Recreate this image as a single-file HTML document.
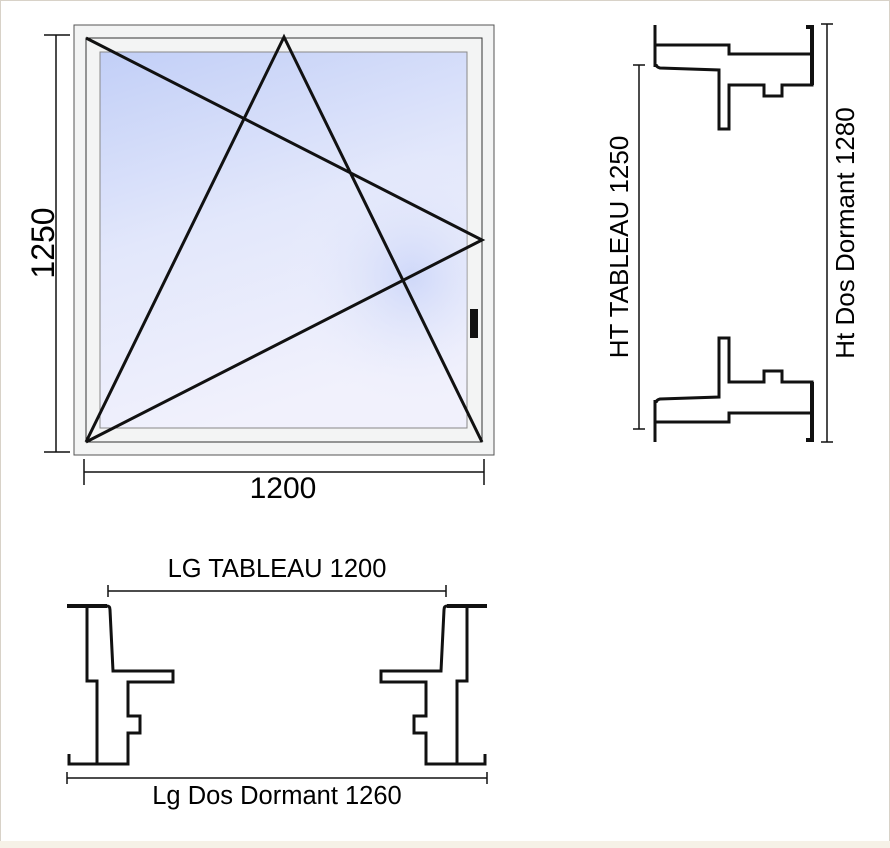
<!DOCTYPE html>
<html><head><meta charset="utf-8"><style>
html,body{margin:0;padding:0;background:#fff}
svg{display:block}
text{font-family:"Liberation Sans",Arial,sans-serif;fill:#000}
</style></head><body>
<svg width="890" height="848" viewBox="0 0 890 848" xmlns="http://www.w3.org/2000/svg">
<defs>
<linearGradient id="g" x1="0" y1="0" x2="0.3" y2="1">
<stop offset="0" stop-color="#c2cff7"/>
<stop offset="0.5" stop-color="#e2e7fb"/>
<stop offset="1" stop-color="#f1f1fc"/>
</linearGradient>
<radialGradient id="g2" cx="0.85" cy="0.6" r="0.35">
<stop offset="0" stop-color="#c8d3f8" stop-opacity="0.8"/>
<stop offset="1" stop-color="#eef0fc" stop-opacity="0"/>
</radialGradient>
</defs>
<rect x="0.5" y="0.5" width="889" height="847" fill="#fff" stroke="#d8d2c8"/>
<rect x="0" y="841" width="890" height="7" fill="#f6f1e7"/>

<rect x="74" y="25" width="420" height="430" fill="#f3f4f4" stroke="#555" stroke-width="1"/>
<rect x="86" y="38" width="396" height="404" fill="#f3f4f4" stroke="#333" stroke-width="1"/>
<rect x="100" y="52" width="367" height="376" fill="url(#g)" stroke="#888" stroke-width="1"/>
<rect x="100" y="52" width="367" height="376" fill="url(#g2)"/>
<g stroke="#111" stroke-width="3" fill="none">
<polyline points="86,38 482,240 86,442"/>
<polyline points="86,442 284,37 482,442"/>
</g>
<rect x="470" y="309" width="8" height="29" fill="#111"/>
<g stroke="#111" stroke-width="1.5">
<line x1="56" y1="35" x2="56" y2="452"/>
<line x1="44" y1="35" x2="70" y2="35"/>
<line x1="44" y1="452" x2="70" y2="452"/>
<line x1="84" y1="472" x2="484" y2="472"/>
<line x1="84" y1="459" x2="84" y2="485"/>
<line x1="484" y1="459" x2="484" y2="485"/>
</g>
<text font-size="32" text-anchor="middle" transform="translate(54,243) rotate(-90)">1250</text>
<text x="283" y="498" font-size="30" text-anchor="middle">1200</text>

<g id="vt" stroke="#111" stroke-width="3" fill="none">
<line x1="655" y1="25" x2="655" y2="67"/>
<path d="M656,45 H729 V54 H812 V85 H782 V96 H764 V85 H729 V129 H719 V70 L660,68 Q656,67 656,64"/>
<path d="M806,27 H812 V85" stroke-width="4"/>
</g>
<use href="#vt" transform="translate(0,467) scale(1,-1)"/>
<g stroke="#111" stroke-width="1.5">
<line x1="639" y1="65" x2="639" y2="429"/>
<line x1="633" y1="65" x2="645" y2="65"/>
<line x1="633" y1="429" x2="645" y2="429"/>
<line x1="827" y1="24" x2="827" y2="442"/>
<line x1="821" y1="24" x2="833" y2="24"/>
<line x1="821" y1="442" x2="833" y2="442"/>
</g>
<text font-size="26" text-anchor="middle" transform="translate(628,247) rotate(-90)">HT TABLEAU 1250</text>
<text font-size="26" text-anchor="middle" transform="translate(854,233) rotate(-90)">Ht Dos Dormant 1280</text>

<g id="hz" stroke="#111" stroke-width="3" fill="none">
<line x1="67" y1="606" x2="107" y2="606" stroke-width="4"/>
<path d="M87,606 V681 H97 V764"/>
<path d="M107,606 Q110,606 110,610 L113,671 H173 V682 H128 V716 H140 V733 H128 V764 H69 V754"/>
</g>
<use href="#hz" transform="translate(554,0) scale(-1,1)"/>
<g stroke="#111" stroke-width="1.5">
<line x1="108" y1="591" x2="446" y2="591"/>
<line x1="108" y1="585" x2="108" y2="597"/>
<line x1="446" y1="585" x2="446" y2="597"/>
<line x1="67" y1="778" x2="487" y2="778"/>
<line x1="67" y1="772" x2="67" y2="784"/>
<line x1="487" y1="772" x2="487" y2="784"/>
</g>
<text x="277" y="577" font-size="25.5" text-anchor="middle">LG TABLEAU 1200</text>
<text x="277" y="804" font-size="25.5" text-anchor="middle">Lg Dos Dormant 1260</text>
</svg>
</body></html>
